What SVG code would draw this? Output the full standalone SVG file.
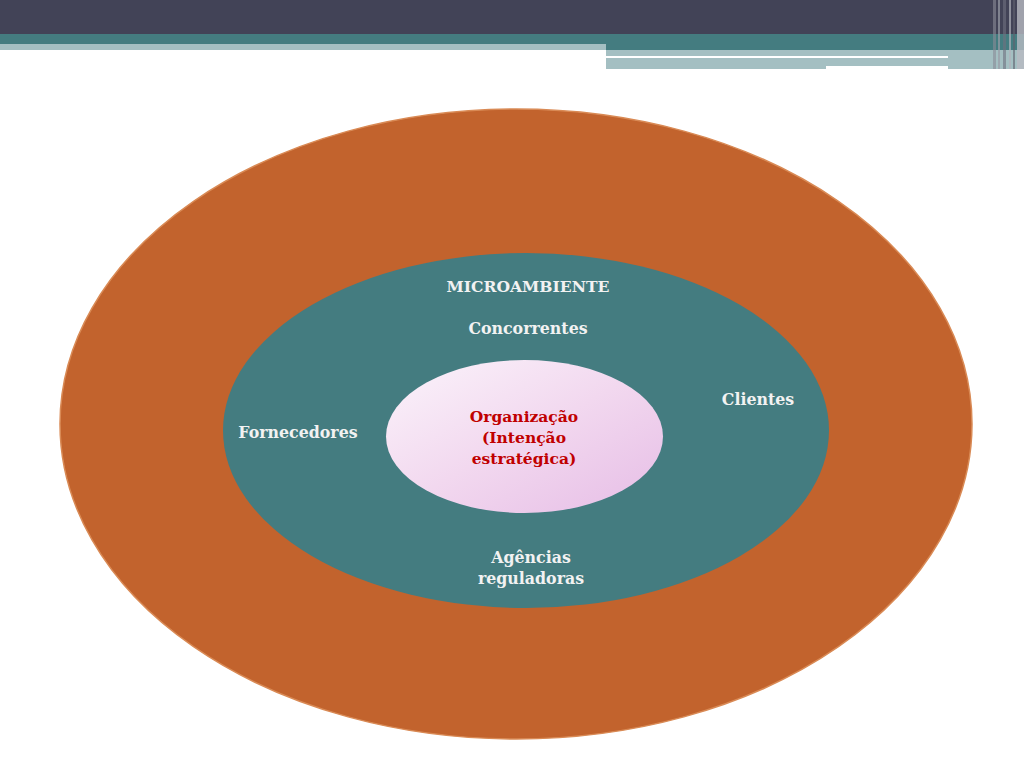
<svg xmlns="http://www.w3.org/2000/svg" width="1024" height="768" viewBox="0 0 1024 768">
<defs>
<linearGradient id="g1" x1="0" y1="0" x2="1" y2="1">
<stop offset="0" stop-color="#FBF4FB"/>
<stop offset="0.5" stop-color="#F2D8EF"/>
<stop offset="1" stop-color="#E6BDE6"/>
</linearGradient>
<style>
.t{font-family:"DejaVu Serif",serif;font-weight:bold;font-size:15.8px;fill:#F2F2F2;text-anchor:middle}
.r{font-family:"DejaVu Serif",serif;font-weight:bold;font-size:15.5px;fill:#C00000;text-anchor:middle}
</style>
</defs>
<rect width="1024" height="768" fill="#FFFFFF"/>
<g id="header">
<rect x="0" y="0" width="1024" height="34" fill="#424357"/>
<rect x="0" y="34" width="1024" height="16" fill="#447C80"/>
<rect x="0" y="44" width="606" height="6" fill="#A4BFC2"/>
<rect x="606" y="50" width="418" height="6" fill="#A4BFC2"/>
<rect x="606" y="56" width="342" height="2" fill="#FFFFFF"/>
<rect x="948" y="56" width="76" height="13" fill="#A4BFC2"/>
<rect x="606" y="58" width="220" height="11" fill="#A4BFC2"/>
<rect x="826" y="58" width="170" height="8" fill="#A4BFC2"/>
<rect x="993" y="0" width="3" height="69" fill="#8A8C96" opacity="0.6"/>
<rect x="998" y="0" width="2" height="69" fill="#9A9CA6" opacity="0.7"/>
<rect x="1003" y="0" width="3" height="69" fill="#70727E" opacity="0.6"/>
<rect x="1009" y="0" width="2" height="69" fill="#B0B2BA" opacity="0.7"/>
<rect x="1013" y="0" width="2" height="69" fill="#60626E" opacity="0.6"/>
<rect x="1017" y="0" width="7" height="69" fill="#B8BAC2" opacity="0.8"/>
</g>
<g id="outer">
<ellipse cx="516" cy="424" rx="456" ry="315" fill="#C2632D" stroke="#D98A55" stroke-width="1.5"/>
</g>
<g id="micro">
<ellipse cx="526" cy="430.5" rx="303" ry="177.5" fill="#447C80"/>
<text class="t" x="528" y="292" style="font-size:15.6px">MICROAMBIENTE</text>
<text class="t" x="528" y="334">Concorrentes</text>
<text class="t" x="758" y="405">Clientes</text>
<text class="t" x="298" y="438">Fornecedores</text>
<text class="t" x="531" y="563">Agências</text>
<text class="t" x="531" y="584">reguladoras</text>
</g>
<g id="org">
<ellipse cx="524.5" cy="436.5" rx="138.5" ry="76.5" fill="url(#g1)"/>
<text class="r" x="524" y="422">Organização</text>
<text class="r" x="524" y="443">(Intenção</text>
<text class="r" x="524" y="464">estratégica)</text>
</g>
</svg>
